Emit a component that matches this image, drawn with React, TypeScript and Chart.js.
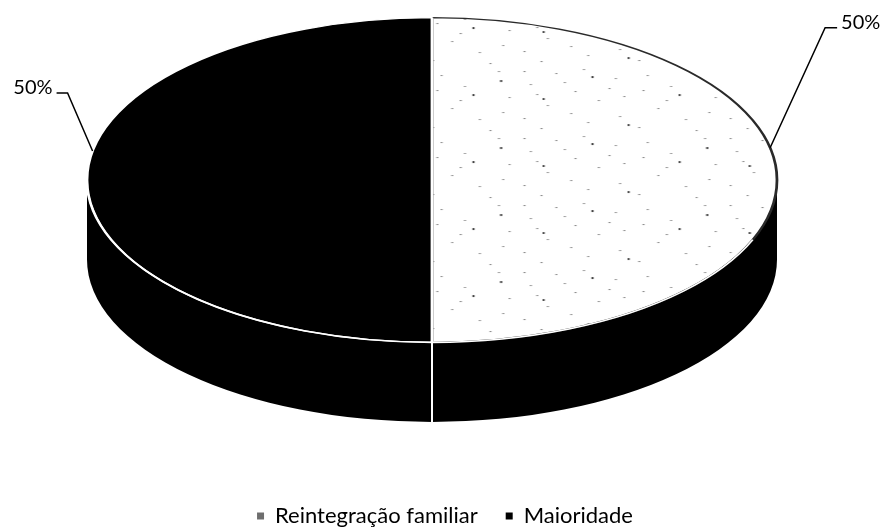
import React, { useEffect, useRef } from "react";
import { Chart, registerables } from "chart.js";

Chart.register(...registerables);

// ---- data ----
const categories = ["Reintegração familiar", "Maioridade"];
const shares = [50, 50];
const percentLabels = ["50%", "50%"];

// ---- style ----
const FONT = "Lato, 'Open Sans', sans-serif";
const legendColors = ["#6e6e6e", "#000000"];
const sideColors = ["#000000", "#000000"];
const borderColors = ["#2a2a2a", "#ffffff"];
// leader line layout per label: angle shift along rim, elbow offset, tail length
const labelLayout = [
  { lift: -0.2, dx: 55, dy: -120, tail: 12 },
  { lift: 0.18, dx: -25, dy: -58, tail: 11 },
];
// speck positions of the stipple texture tile (texture only, not data)
const speckTile = { w: 97, h: 67 };
const specks = [
  [3, 4], [31, 2], [46, 11], [9, 27], [38, 33], [22, 15], [50, 29], [14, 38],
  [27, 24], [6, 17], [43, 21], [18, 6], [61, 8], [72, 19], [88, 4], [93, 30],
  [66, 41], [79, 52], [57, 60], [33, 55], [11, 61], [84, 63], [70, 33], [25, 46],
  [48, 49], [90, 45], [59, 23], [3, 51],
];
const darkSpecks = [[35, 9], [12, 31], [76, 27], [52, 57], [89, 13]];

function makeStipple(): CanvasPattern | string {
  const c = document.createElement("canvas");
  c.width = speckTile.w;
  c.height = speckTile.h;
  const g = c.getContext("2d");
  if (!g) return "#f6f6f6";
  g.fillStyle = "#ffffff";
  g.fillRect(0, 0, c.width, c.height);
  g.fillStyle = "#8a8a8a";
  specks.forEach(([x, y]) => g.fillRect(x, y, 1, 1));
  g.fillStyle = "#444444";
  darkSpecks.forEach(([x, y]) => g.fillRect(x, y, 1, 2));
  const p = g.createPattern(c, "repeat");
  return p || "#f6f6f6";
}

const pie3d = {
  id: "pie3d",
  beforeDatasetsDraw(chart: any, _args: any, opts: any) {
    const arcs = chart.getDatasetMeta(0).data;
    if (!arcs.length) return;
    const { x: ox, y: cy, outerRadius: r } = arcs[0];
    const cx = ox + opts.shiftX;
    const sx = chart.chartArea.width / 2 / r;
    const rx = r * sx;
    const ry = r;
    const depth = r * opts.depth;
    const ctx = chart.ctx;
    ctx.save();
    arcs.forEach((arc: any, i: number) => {
      const a1 = Math.max(arc.startAngle, 0);
      const a2 = Math.min(arc.endAngle, Math.PI);
      if (a2 <= a1) return;
      ctx.beginPath();
      ctx.ellipse(cx, cy, rx, ry, 0, a1, a2, false);
      ctx.lineTo(cx + rx * Math.cos(a2), cy + depth + ry * Math.sin(a2));
      ctx.ellipse(cx, cy + depth, rx, ry, 0, a2, a1, true);
      ctx.closePath();
      ctx.fillStyle = opts.sideColors[i];
      ctx.fill();
    });
    // dividers on the side wall
    ctx.strokeStyle = "#ffffff";
    ctx.lineWidth = 2;
    arcs.forEach((arc: any) => {
      const a = arc.startAngle;
      if (a > 0 && a < Math.PI) {
        const px = cx + rx * Math.cos(a);
        const py = cy + ry * Math.sin(a);
        ctx.beginPath();
        ctx.moveTo(px, py);
        ctx.lineTo(px, py + depth);
        ctx.stroke();
      }
    });
    ctx.restore();
    // squash the round pie into the ellipse of the top face
    ctx.save();
    ctx.translate(cx, cy);
    ctx.scale(sx, 1);
    ctx.translate(-ox, -cy);
  },
  afterDatasetsDraw(chart: any, _args: any, opts: any) {
    const ctx = chart.ctx;
    ctx.restore();
    const arcs = chart.getDatasetMeta(0).data;
    if (!arcs.length) return;
    const { x: ox, y: cy, outerRadius: r } = arcs[0];
    const cx = ox + opts.shiftX;
    const sx = chart.chartArea.width / 2 / r;
    const rx = r * sx;
    const ry = r;
    ctx.save();
    // white rim between top face and side wall
    ctx.strokeStyle = "#ffffff";
    ctx.lineWidth = 1.6;
    ctx.beginPath();
    ctx.ellipse(cx, cy, rx, ry, 0, 0.12 * Math.PI, Math.PI, false);
    ctx.stroke();
    // data labels with leader lines
    ctx.strokeStyle = "#000000";
    ctx.fillStyle = "#000000";
    ctx.lineWidth = 1.5;
    ctx.font = `20px ${FONT}`;
    ctx.textBaseline = "middle";
    arcs.forEach((arc: any, i: number) => {
      const L = opts.layout[i];
      const mid = (arc.startAngle + arc.endAngle) / 2;
      const a = mid + L.lift;
      const ax = cx + rx * Math.cos(a);
      const ay = cy + ry * Math.sin(a);
      const ex = ax + L.dx;
      const ey = ay + L.dy;
      const right = L.dx > 0;
      const tx = ex + (right ? L.tail : -L.tail);
      ctx.beginPath();
      ctx.moveTo(ax, ay);
      ctx.lineTo(ex, ey);
      ctx.lineTo(tx, ey);
      ctx.stroke();
      ctx.textAlign = right ? "left" : "right";
      ctx.fillText(opts.labels[i], tx + (right ? 4 : -4), ey - 5);
    });
    ctx.restore();
  },
};

export default function App() {
  const ref = useRef<HTMLCanvasElement>(null);
  useEffect(() => {
    if (!ref.current) return;
    const stipple = makeStipple();
    const chart = new Chart(ref.current, {
      type: "pie",
      data: {
        labels: categories,
        datasets: [
          {
            data: shares,
            backgroundColor: [stipple, "#000000"],
            borderColor: borderColors,
            borderWidth: 1.3,
            clip: false,
          } as any,
        ],
      },
      options: {
        responsive: true,
        maintainAspectRatio: false,
        animation: false,
        events: [],
        layout: { padding: { left: 100, right: 98, top: 17, bottom: -7 } },
        plugins: {
          tooltip: { enabled: false },
          title: {
            display: true,
            position: "bottom",
            text: " ",
            weight: 500,
            color: "rgba(0,0,0,0)",
            font: { size: 10, lineHeight: 1 },
            padding: { top: 124, bottom: 0 },
          } as any,
          legend: {
            display: true,
            position: "bottom",
            labels: {
              boxWidth: 7,
              boxHeight: 7,
              padding: 28,
              color: "#000000",
              font: { family: FONT, size: 22 },
              generateLabels: () =>
                categories.map((text, i) => ({
                  text,
                  fillStyle: legendColors[i],
                  strokeStyle: legendColors[i],
                  lineWidth: 0,
                  hidden: false,
                  index: i,
                  fontColor: "#000000",
                })),
            },
          },
          pie3d: {
            depth: 0.49,
            shiftX: -13,
            sideColors,
            labels: percentLabels,
            layout: labelLayout,
          },
        } as any,
      },
      plugins: [pie3d],
    });
    return () => chart.destroy();
  }, []);
  return (
    <div
      style={{
        position: "fixed",
        left: 0,
        top: 0,
        width: 888,
        height: 530,
        background: "#ffffff",
      }}
    >
      <canvas ref={ref} />
    </div>
  );
}
